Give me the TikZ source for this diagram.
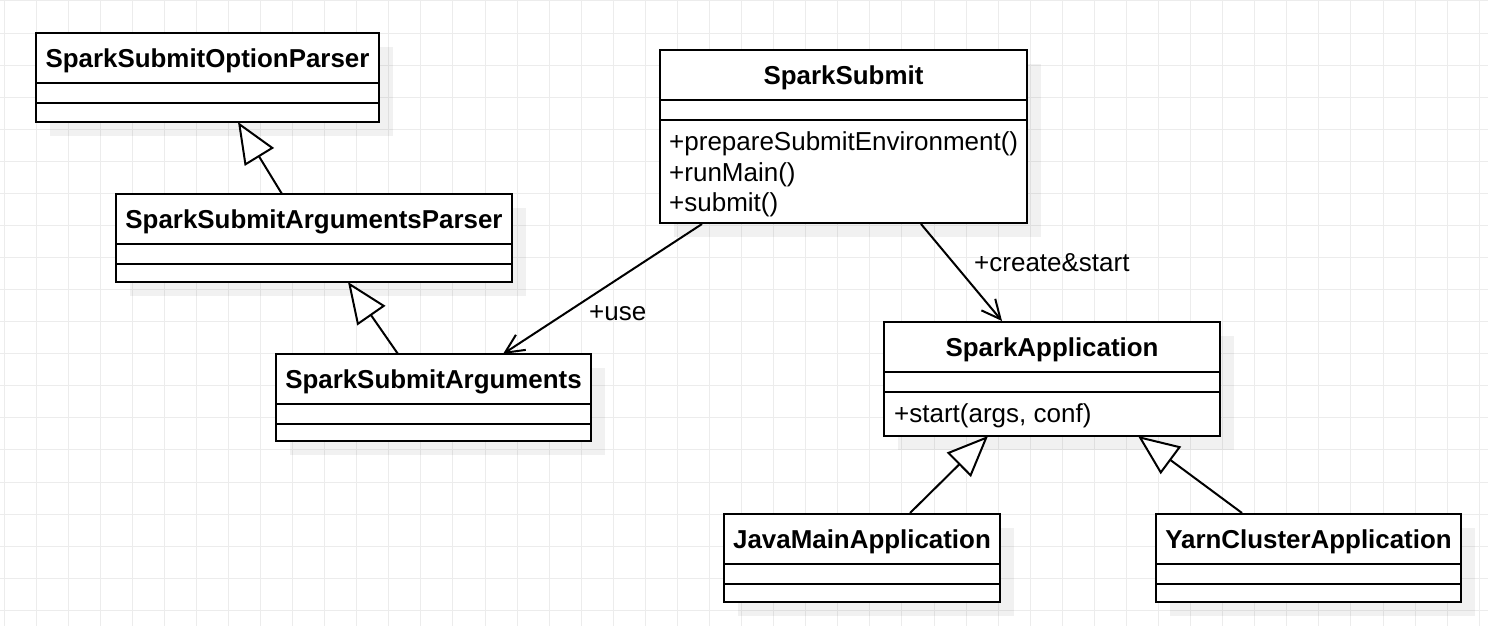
\documentclass[tikz,border=0pt]{standalone}
\usepackage{fontspec}
\setmainfont{Liberation Sans}
\usetikzlibrary{arrows.meta,calc}
\definecolor{gridc}{RGB}{236,236,236}
\begin{document}
\begin{tikzpicture}[x=1pt,y=-1pt,
  every node/.style={font=\fontsize{26}{30}\selectfont},
  clsbox/.style={draw, line width=2pt, fill=white, inner sep=0pt, outer sep=0pt, anchor=north west},
  ctitle/.style={clsbox, minimum height=50pt, text height=19pt, text depth=0pt, font=\fontsize{25.9}{30}\selectfont\bfseries},
  shadowbox/.style={fill=black, fill opacity=0.055},
  gridline/.style={draw=gridc, line width=1pt},
  gen/.style={line width=2pt, -{Triangle[open, fill=white, length=41pt, width=34pt]}},
  assoc/.style={line width=2pt, -{Straight Barb[length=19pt, width=18pt]}},
  txt/.style={anchor=base west, inner sep=0pt}
]
\useasboundingbox (0,0) rectangle (1488,626);
\fill[white] (0,0) rectangle (1488,626);
% grid
\foreach \i in {0,...,46} \draw[gridline] ({4+32.07*\i},0) -- ({4+32.07*\i},626);
\foreach \j in {0,...,19} \draw[gridline] (0,{1+32.07*\j}) -- (1488,{1+32.07*\j});
% shadows
\fill[shadowbox] (50,47) rectangle (393,136);
\fill[shadowbox] (130,208) rectangle (526,296);
\fill[shadowbox] (290,368) rectangle (605,455);
\fill[shadowbox] (674,64) rectangle (1041,237);
\fill[shadowbox] (898,336) rectangle (1234,450);
\fill[shadowbox] (738,528) rectangle (1014,616);
\fill[shadowbox] (1170,528) rectangle (1475,616);
% SparkSubmitOptionParser
\node[ctitle, minimum width=343pt] (op) at (36,33) {SparkSubmitOptionParser};
\node[clsbox, minimum width=343pt, minimum height=20pt] (op-a) at (op.south west) {};
\node[clsbox, minimum width=343pt, minimum height=19pt] (op-o) at (op-a.south west) {};
% SparkSubmitArgumentsParser
\node[ctitle, minimum width=396pt] (ap) at (116,194) {SparkSubmitArgumentsParser};
\node[clsbox, minimum width=396pt, minimum height=20pt] (ap-a) at (ap.south west) {};
\node[clsbox, minimum width=396pt, minimum height=18pt] (ap-o) at (ap-a.south west) {};
% SparkSubmitArguments
\node[ctitle, minimum width=315pt] (ar) at (276,354) {SparkSubmitArguments};
\node[clsbox, minimum width=315pt, minimum height=20pt] (ar-a) at (ar.south west) {};
\node[clsbox, minimum width=315pt, minimum height=17pt] (ar-o) at (ar-a.south west) {};
% SparkSubmit
\node[ctitle, minimum width=367pt] (ss) at (660,50) {SparkSubmit};
\node[clsbox, minimum width=367pt, minimum height=20pt] (ss-a) at (ss.south west) {};
\node[clsbox, minimum width=367pt, minimum height=103pt] (ss-o) at (ss-a.south west) {};
\node[txt] (ss-m1) at ($(ss-o.north west)+(9,30.5)$) {+prepareSubmitEnvironment()};
\node[txt] (ss-m2) at ($(ss-o.north west)+(9,61)$) {+runMain()};
\node[txt] (ss-m3) at ($(ss-o.north west)+(9,91.5)$) {+submit()};
% SparkApplication
\node[ctitle, minimum width=336pt] (sa) at (884,322) {SparkApplication};
\node[clsbox, minimum width=336pt, minimum height=20pt] (sa-a) at (sa.south west) {};
\node[clsbox, minimum width=336pt, minimum height=44pt] (sa-o) at (sa-a.south west) {};
\node[txt] (sa-m1) at ($(sa-o.north west)+(10,30)$) {+start(args, conf)};
% JavaMainApplication
\node[ctitle, minimum width=276pt] (jm) at (724,514) {JavaMainApplication};
\node[clsbox, minimum width=276pt, minimum height=20pt] (jm-a) at (jm.south west) {};
\node[clsbox, minimum width=276pt, minimum height=18pt] (jm-o) at (jm-a.south west) {};
% YarnClusterApplication
\node[ctitle, minimum width=305pt] (yc) at (1156,514) {YarnClusterApplication};
\node[clsbox, minimum width=305pt, minimum height=20pt] (yc-a) at (yc.south west) {};
\node[clsbox, minimum width=305pt, minimum height=18pt] (yc-o) at (yc-a.south west) {};
% connectors
\draw[gen] ($(ap.north west)+(166,0)$) -- ($(op-o.south west)+(202,0)$);
\draw[gen] ($(ar.north west)+(122,0)$) -- ($(ap-o.south west)+(232,0)$);
\draw[assoc] ($(ss-o.south west)+(42,1)$) -- ($(ar.north west)+(227,0)$);
\draw[assoc] ($(ss-o.south west)+(261,1)$) -- ($(sa.north west)+(118,-1)$);
\draw[gen] ($(jm.north west)+(186,-1)$) -- ($(sa-o.south west)+(104,0)$);
\draw[gen] ($(yc.north west)+(86,-1)$) -- ($(sa-o.south west)+(254,0)$);
% labels
\node[txt] (l-use) at (589,320) {+use};
\node[txt] (l-cs) at (974,271) {+create\&start};
\end{tikzpicture}
\end{document}
